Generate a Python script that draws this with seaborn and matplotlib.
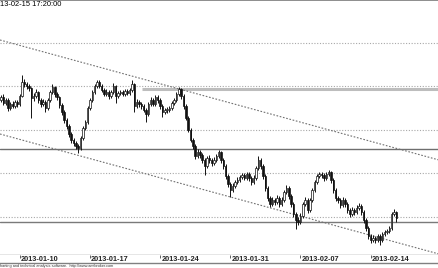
import numpy as np
import pandas as pd
import matplotlib
matplotlib.use("Agg")
import matplotlib.pyplot as plt
import seaborn as sns

# ---- data (price units are arbitrary) ----
FIRST_OPEN = 200
CLOSE = [203, 197, 200, 192, 196, 194, 198, 196, 204, 218,
         216, 214, 212, 202, 204, 208, 200, 196, 198, 192,
         200, 208, 213, 206, 203, 195, 188, 180, 174, 166,
         160, 157, 154, 152, 162, 172, 178, 192, 200, 208,
         214, 218, 214, 210, 206, 208, 204, 208, 214, 204,
         207, 208, 206, 209, 207, 210, 216, 194, 198, 196,
         194, 190, 186, 196, 200, 196, 203, 200, 194, 188,
         190, 190, 192, 197, 200, 206, 211, 204, 194, 182,
         170, 160, 154, 144, 148, 145, 140, 134, 142, 140,
         137, 140, 144, 148, 140, 134, 124, 116, 110, 114,
         118, 120, 123, 125, 122, 126, 122, 118, 122, 132,
         140, 134, 124, 112, 102, 96, 100, 98, 102, 96,
         100, 108, 112, 104, 96, 86, 80, 78, 84, 96,
         100, 90, 100, 110, 118, 124, 126, 125, 122, 126,
         128, 120, 110, 102, 100, 95, 100, 96, 90, 86,
         90, 88, 92, 94, 88, 80, 72, 64, 60, 62,
         60, 64, 60, 66, 68, 69, 72, 86, 88, 82]
HIGH = [205, 206, 202, 202, 198, 199, 200, 200, 206, 225,
        221, 218, 216, 213, 207, 211, 209, 202, 201, 200,
        202, 210, 216, 214, 208, 204, 197, 190, 182, 176,
        168, 162, 159, 156, 164, 174, 180, 194, 202, 210,
        216, 220, 220, 216, 212, 211, 210, 210, 217, 215,
        209, 210, 210, 211, 211, 212, 220, 217, 201, 200,
        198, 196, 192, 198, 203, 202, 205, 205, 202, 196,
        192, 193, 194, 199, 202, 208, 213, 212, 206, 196,
        184, 172, 162, 156, 151, 150, 147, 142, 144, 145,
        142, 143, 146, 150, 149, 142, 136, 126, 118, 117,
        120, 123, 125, 127, 127, 128, 128, 124, 125, 134,
        144, 142, 136, 126, 114, 104, 103, 102, 105, 104,
        103, 110, 115, 114, 106, 98, 88, 83, 87, 98,
        103, 102, 102, 112, 120, 126, 128, 128, 127, 128,
        130, 129, 122, 112, 104, 102, 103, 102, 98, 92,
        93, 92, 95, 97, 96, 90, 82, 74, 66, 65,
        64, 66, 66, 68, 70, 71, 74, 88, 91, 89]
LOW = [198, 195, 195, 189, 190, 192, 192, 193, 194, 203,
       213, 211, 209, 182, 199, 202, 197, 193, 194, 188,
       190, 198, 206, 203, 200, 192, 185, 177, 171, 163,
       157, 154, 151, 147, 150, 160, 170, 176, 190, 198,
       206, 212, 212, 208, 204, 204, 201, 202, 206, 197,
       202, 205, 204, 204, 205, 205, 208, 188, 192, 193,
       191, 188, 178, 184, 194, 194, 194, 197, 191, 183,
       186, 187, 188, 190, 195, 198, 204, 201, 191, 180,
       168, 158, 151, 141, 142, 142, 137, 125, 132, 137,
       134, 135, 138, 142, 137, 131, 121, 113, 103, 108,
       112, 116, 118, 121, 120, 120, 119, 115, 116, 120,
       130, 131, 121, 109, 99, 93, 94, 95, 96, 93,
       94, 98, 106, 101, 93, 83, 71, 75, 76, 82,
       94, 87, 88, 98, 108, 116, 122, 122, 119, 120,
       124, 117, 107, 99, 97, 92, 93, 93, 87, 83,
       84, 85, 86, 90, 85, 77, 69, 61, 57, 58,
       57, 58, 55, 58, 64, 66, 67, 70, 84, 78]

TICK_BARS = [8, 38, 68, 98, 128, 158]
TICK_LABELS = ["2013-01-10", "2013-01-17", "2013-01-24",
               "2013-01-31", "2013-02-07", "2013-02-14"]
GRID_LEVELS = [257, 214, 170, 127, 83]
RESIST_LEVEL = 211.5
RESIST_START = 60.3
MID_LEVEL = 151
LOW_LEVEL = 78.5
UPPER_CHANNEL_X = [-0.43, 187.2]
UPPER_CHANNEL_Y = [260, 140]
LOWER_CHANNEL_X = [-0.43, 187.2]
LOWER_CHANNEL_Y = [166, 46]
# visible parts of the header / footer texts
TITLE = "13-02-15 17:20:00"
FOOTER = "harting and technical analysis software.  http://www.amibroker.com"

XMIN, XMAX = -0.43, 187.2
YMIN, YMAX = 45.5, 300

# ---- figure ----
sns.set_theme(style="white")
plt.rcParams["font.family"] = ["Liberation Sans", "DejaVu Sans"]

W, H = 439, 268
fig = plt.figure(figsize=(W / 100, H / 100), dpi=100)
fig.patch.set_facecolor("white")

ax = fig.add_axes([0, (H - 254.5) / H, 1, 254.5 / H])
ax.set_xlim(XMIN, XMAX)
ax.set_ylim(YMIN, YMAX)
ax.set_facecolor("white")
for s in ["left", "right"]:
    ax.spines[s].set_visible(False)
ax.spines["top"].set_color("#7a7a7a")
ax.spines["top"].set_linewidth(1.2)
ax.spines["bottom"].set_color("#808080")
ax.spines["bottom"].set_linewidth(1.0)
ax.set_xticks([])
ax.set_yticks([])

df = pd.DataFrame({"close": CLOSE, "high": HIGH, "low": LOW})
df["open"] = [FIRST_OPEN] + CLOSE[:-1]
df["bar"] = np.arange(len(df))

# grid (dotted)
for lv in GRID_LEVELS:
    ax.axhline(lv, color="#a8a8a8", lw=0.8, ls=(0, (1, 1.5)), zorder=1)

# horizontal levels
ax.hlines(RESIST_LEVEL, RESIST_START, XMAX, color="#bdbdbd", lw=2.2, zorder=2)
ax.axhline(MID_LEVEL, color="#6e6e6e", lw=1.0, zorder=2)
ax.axhline(LOW_LEVEL, color="#7a7a7a", lw=1.0, zorder=2)

# channel lines
sns.lineplot(x=UPPER_CHANNEL_X, y=UPPER_CHANNEL_Y, ax=ax, color="#707070",
             lw=0.8, linestyle=(0, (1.5, 1.5)), zorder=2)
sns.lineplot(x=LOWER_CHANNEL_X, y=LOWER_CHANNEL_Y, ax=ax, color="#707070",
             lw=0.8, linestyle=(0, (1.5, 1.5)), zorder=2)

# candles
ax.vlines(df["bar"], df["low"], df["high"], color="#111111", lw=0.7, zorder=3)
up = df["close"] >= df["open"]
body_lo = np.minimum(df["open"], df["close"])
body_h = np.maximum(np.abs(df["close"] - df["open"]), 0.6)
ax.bar(df["bar"][up], body_h[up], bottom=body_lo[up], width=0.62,
       color="white", edgecolor="#111111", linewidth=0.5, zorder=4)
ax.bar(df["bar"][~up], body_h[~up], bottom=body_lo[~up], width=0.62,
       color="#111111", edgecolor="#111111", linewidth=0.5, zorder=4)

# title
fig.text(0.5 / W, 1 - 5 / H, TITLE, ha="left", va="center", fontsize=5.4,
         color="black", bbox=dict(facecolor="white", edgecolor="none", pad=0.5))

# date strip
ax2 = fig.add_axes([0, (H - 263) / H, 1, 8.5 / H], sharex=ax)
ax2.set_facecolor("white")
ax2.set_ylim(0, 1)
for s in ["left", "right"]:
    ax2.spines[s].set_visible(False)
ax2.spines["top"].set_visible(False)
ax2.spines["bottom"].set_color("#808080")
ax2.spines["bottom"].set_linewidth(1.0)
ax2.tick_params(left=False, bottom=False, labelleft=False, labelbottom=False)
ax2.vlines(TICK_BARS, 0.62, 1.0, color="#444444", lw=0.6)
for b, lab in zip(TICK_BARS, TICK_LABELS):
    ax2.text(b + 0.5, 0.45, lab, ha="left", va="center", fontsize=5.3,
             fontweight="bold", color="#222222")
ax.set_xlim(XMIN, XMAX)

# footer
fig.text(0.5 / W, 2.4 / H, FOOTER, ha="left", va="center", fontsize=2.8,
         color="#333333")

fig.savefig("out.png", dpi=100, facecolor="white")
